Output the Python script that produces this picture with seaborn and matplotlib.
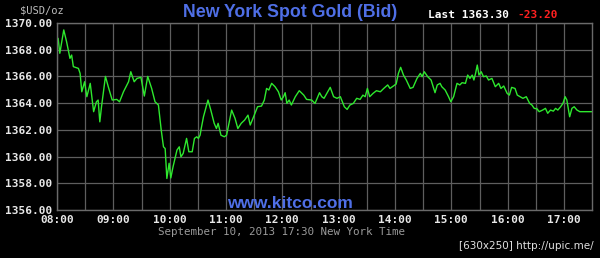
import matplotlib
matplotlib.use("Agg")
import matplotlib.pyplot as plt
import seaborn as sns
import pandas as pd
import numpy as np

# time in decimal hours (New York time), bid price in USD/oz
hours = [8.02, 8.05, 8.08, 8.12, 8.17, 8.23, 8.26, 8.29, 8.38, 8.41, 8.44, 8.49,
         8.53, 8.59, 8.65, 8.70, 8.73, 8.76, 8.79, 8.86, 8.91, 8.98, 9.06, 9.11,
         9.18, 9.27, 9.31, 9.37, 9.42, 9.49, 9.55, 9.61, 9.68, 9.74, 9.80, 9.85,
         9.89, 9.92, 9.95, 9.99, 10.02, 10.06, 10.13, 10.17, 10.20, 10.24, 10.30,
         10.34, 10.40, 10.44, 10.48, 10.51, 10.54, 10.56, 10.60, 10.68, 10.73,
         10.79, 10.83, 10.86, 10.91, 10.97, 11.01, 11.10, 11.16, 11.21, 11.27,
         11.33, 11.39, 11.43, 11.49, 11.56, 11.63, 11.68, 11.72, 11.76, 11.81,
         11.87, 11.93, 11.98, 12.02, 12.05, 12.08, 12.12, 12.16, 12.23, 12.30,
         12.38, 12.43, 12.52, 12.58, 12.66, 12.70, 12.74, 12.79, 12.85, 12.91,
         12.97, 13.03, 13.10, 13.15, 13.20, 13.26, 13.32, 13.38, 13.43, 13.47,
         13.51, 13.55, 13.61, 13.67, 13.74, 13.80, 13.87, 13.91, 13.97, 14.02,
         14.06, 14.10, 14.15, 14.20, 14.27, 14.32, 14.39, 14.45, 14.48, 14.52,
         14.58, 14.64, 14.71, 14.75, 14.80, 14.83, 14.89, 14.95, 14.99, 15.04,
         15.10, 15.15, 15.19, 15.25, 15.29, 15.33, 15.37, 15.40, 15.43, 15.46,
         15.49, 15.53, 15.57, 15.62, 15.66, 15.72, 15.78, 15.84, 15.88, 15.93,
         15.99, 16.03, 16.07, 16.13, 16.17, 16.22, 16.27, 16.33, 16.39, 16.43,
         16.47, 16.52, 16.52, 16.56, 16.62, 16.67, 16.71, 16.76, 16.81, 16.85,
         16.89, 16.94, 16.98, 17.02, 17.05, 17.10, 17.14, 17.18, 17.23, 17.28,
         17.50]
prices = [1368.85, 1367.73, 1368.48, 1369.48, 1368.60, 1367.35, 1367.60, 1366.73,
          1366.60, 1366.23, 1364.85, 1365.60, 1364.48, 1365.48, 1363.36, 1364.10,
          1364.23, 1362.60, 1363.73, 1366.00, 1365.23, 1364.23, 1364.28, 1364.10,
          1364.85, 1365.60, 1366.35, 1365.60, 1365.85, 1365.93, 1364.53, 1366.00,
          1365.10, 1364.10, 1363.86, 1361.98, 1360.73, 1360.60, 1358.36, 1359.50,
          1358.40, 1359.24, 1360.49, 1360.73, 1359.98, 1360.24, 1361.36, 1360.36,
          1360.36, 1361.36, 1361.48, 1361.36, 1361.60, 1362.10, 1362.98, 1364.23,
          1363.48, 1362.49, 1362.10, 1362.49, 1361.60, 1361.48, 1361.60, 1363.48,
          1362.86, 1362.10, 1362.49, 1362.73, 1363.10, 1362.36, 1362.98, 1363.73,
          1363.78, 1364.23, 1365.10, 1364.98, 1365.48, 1365.23, 1364.85, 1364.23,
          1364.48, 1364.78, 1363.98, 1364.23, 1363.86, 1364.48, 1364.93, 1364.60,
          1364.28, 1364.23, 1363.98, 1364.78, 1364.48, 1364.36, 1364.73, 1365.18,
          1364.48, 1364.36, 1364.48, 1363.73, 1363.53, 1363.86, 1363.98, 1364.36,
          1364.28, 1364.60, 1364.48, 1365.10, 1364.48, 1364.73, 1364.93, 1364.85,
          1365.10, 1365.36, 1365.10, 1365.28, 1365.43, 1366.23, 1366.68, 1366.10,
          1365.73, 1365.10, 1365.18, 1365.85, 1366.23, 1365.98, 1366.35, 1365.98,
          1365.73, 1364.78, 1365.36, 1365.48, 1365.23, 1364.98, 1364.48, 1364.10,
          1364.48, 1365.48, 1365.36, 1365.53, 1365.48, 1366.10, 1365.85, 1366.10,
          1365.73, 1366.23, 1366.85, 1366.10, 1366.35, 1365.98, 1366.03, 1365.73,
          1365.85, 1365.23, 1365.48, 1365.10, 1365.28, 1364.73, 1364.60, 1365.18,
          1365.10, 1364.60, 1364.48, 1364.36, 1364.48, 1363.98, 1363.86, 1363.61,
          1363.78, 1363.36, 1363.36, 1363.48, 1363.61, 1363.24, 1363.48, 1363.40,
          1363.61, 1363.48, 1363.73, 1363.98, 1364.48, 1364.23, 1362.98, 1363.61,
          1363.73, 1363.48, 1363.36, 1363.36]

y_ticks = [1356, 1358, 1360, 1362, 1364, 1366, 1368, 1370]
x_major = [8, 9, 10, 11, 12, 13, 14, 15, 16, 17]
x_labels = ["08:00", "09:00", "10:00", "11:00", "12:00", "13:00", "14:00",
            "15:00", "16:00", "17:00"]

df = pd.DataFrame({"hour": hours, "price": prices})

sns.set_theme(style="dark")
plt.rcParams["font.family"] = ["DejaVu Sans Mono", "DejaVu Sans"]

fig = plt.figure(figsize=(6.0, 2.58), dpi=100, facecolor="black")
ax = fig.add_axes([0.095, 0.186, 0.892, 0.725])
ax.set_facecolor("black")

sns.lineplot(data=df, x="hour", y="price", ax=ax, color="#2ee82e",
             linewidth=1.0)

ax.set_xlim(8, 17.5)
ax.set_ylim(1356, 1370)
ax.set_yticks(y_ticks)
ax.set_yticklabels([f"{v:.2f}" for v in y_ticks])
ax.set_xticks(x_major)
ax.set_xticklabels(x_labels)
ax.set_xticks(np.arange(8.5, 17.5, 1.0), minor=True)
ax.grid(True, which="both", color="#5e5e5e", linewidth=0.9)
ax.tick_params(axis="both", which="both", length=0, colors="#e8e8e8",
               labelsize=8, pad=3.5)
for lab in ax.get_xticklabels() + ax.get_yticklabels():
    lab.set_fontweight("bold")
for sp in ax.spines.values():
    sp.set_color("#6a6a6a")
    sp.set_linewidth(1.0)
ax.set_xlabel("")
ax.set_ylabel("")

fig.text(0.034, 0.958, "$USD/oz", color="#bdbdbd", fontsize=7.5,
         ha="left", va="center")
fig.text(0.483, 0.953, "New York Spot Gold (Bid)", color="#4f6fe6",
         fontsize=12.8, fontweight="bold", family="Liberation Sans",
         ha="center", va="center")
fig.text(0.713, 0.94, "Last 1363.30", color="white", fontsize=8,
         fontweight="bold", ha="left", va="center")
fig.text(0.862, 0.94, "-23.20", color="#ff2020", fontsize=8,
         fontweight="bold", ha="left", va="center")
fig.text(0.483, 0.213, "www.kitco.com", color="#4f6fe6", fontsize=12.5,
         fontweight="bold", family="Liberation Sans", ha="center",
         va="center")
fig.text(0.470, 0.10, "September 10, 2013 17:30 New York Time",
         color="#9a9a9a", fontsize=7.8, ha="center", va="center")
fig.text(0.99, 0.045, "[630x250] http://upic.me/", color="#e0e0e0",
         fontsize=7.5, family="DejaVu Sans", ha="right", va="center")

fig.savefig("out.png", dpi=100, facecolor="black")
